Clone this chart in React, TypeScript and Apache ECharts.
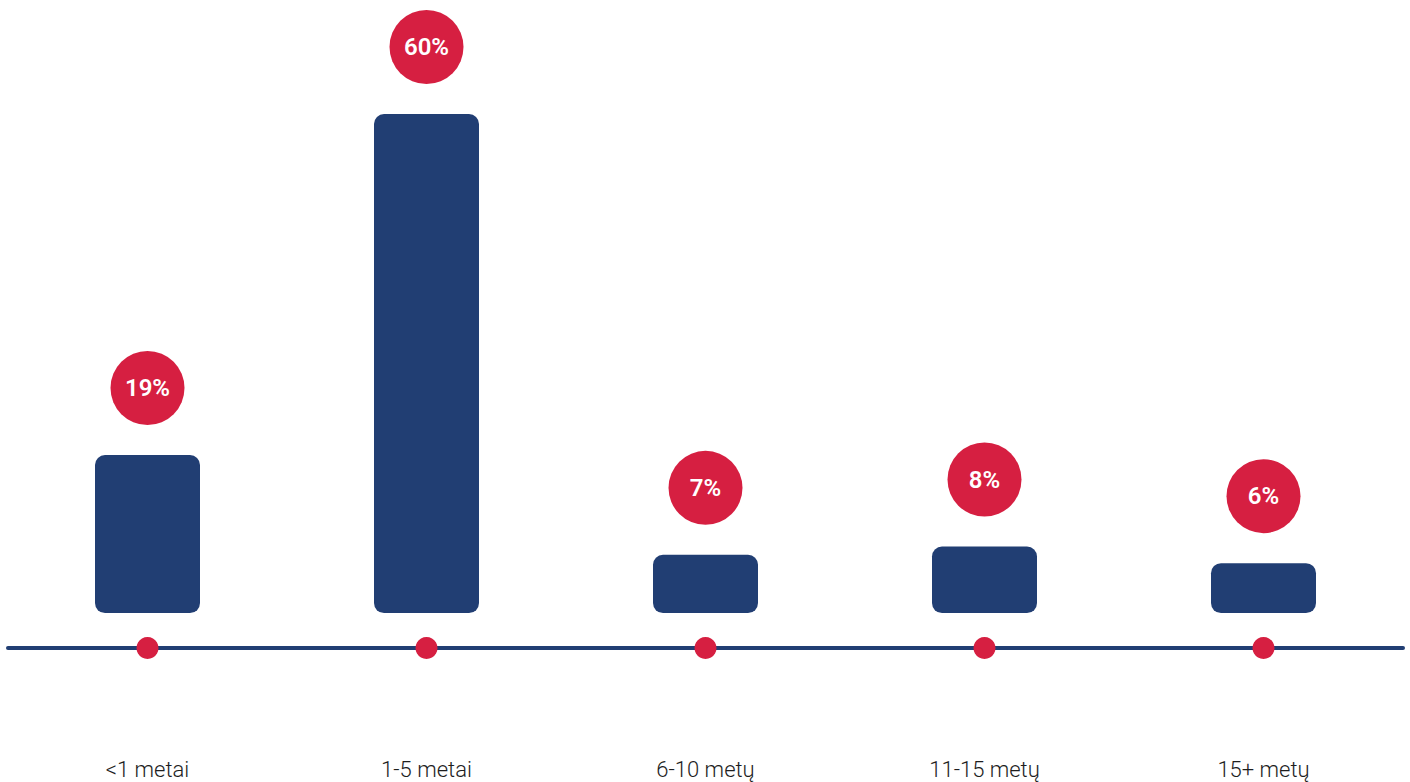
import React, { useEffect, useRef } from "react";
import * as echarts from "echarts";

const categories = ["<1 metai", "1-5 metai", "6-10 metų", "11-15 metų", "15+ metų"];
const shares = [19, 60, 7, 8, 6];
const AXIS_MIN = -4.2;
const AXIS_MAX = 60;

const NAVY = "#213e73";
const RED = "#d61f41";

export default function App() {
  const ref = useRef<HTMLDivElement>(null);
  useEffect(() => {
    if (!ref.current) return;
    const chart = echarts.init(ref.current, undefined, { renderer: "svg" });
    chart.setOption({
      animation: false,
      grid: { left: 8, right: 7, top: 114, bottom: 134 },
      xAxis: {
        type: "category",
        data: categories,
        axisLine: { onZero: false, lineStyle: { color: NAVY, width: 4 } },
        axisTick: { show: false },
        axisLabel: {
          margin: 110,
          fontSize: 22,
          fontFamily: "Roboto",
          fontWeight: 300,
          color: "#1e1e1e",
        },
      },
      yAxis: {
        type: "value",
        min: AXIS_MIN,
        max: AXIS_MAX,
        show: false,
        splitLine: { show: false },
      },
      series: [
        {
          type: "bar",
          data: shares,
          barWidth: 105,
          itemStyle: { color: NAVY, borderRadius: 10 },
          label: {
            show: true,
            position: "top",
            distance: 67,
            formatter: "{c}%",
            backgroundColor: RED,
            borderRadius: 37,
            width: 74,
            height: 74,
            lineHeight: 74,
            align: "center",
            verticalAlign: "middle",
            padding: 0,
            color: "#ffffff",
            fontSize: 24,
            fontWeight: 600,
            fontFamily: "Roboto",
          },
        },
        {
          type: "scatter",
          data: categories.map(() => AXIS_MIN),
          symbol: "circle",
          symbolSize: 22,
          clip: false,
          itemStyle: { color: RED, opacity: 1 },
          z: 5,
        },
      ],
    });
    return () => chart.dispose();
  }, []);
  return (
    <div
      ref={ref}
      style={{ position: "fixed", left: 0, top: 0, width: 1410, height: 782, background: "#fff" }}
    />
  );
}
